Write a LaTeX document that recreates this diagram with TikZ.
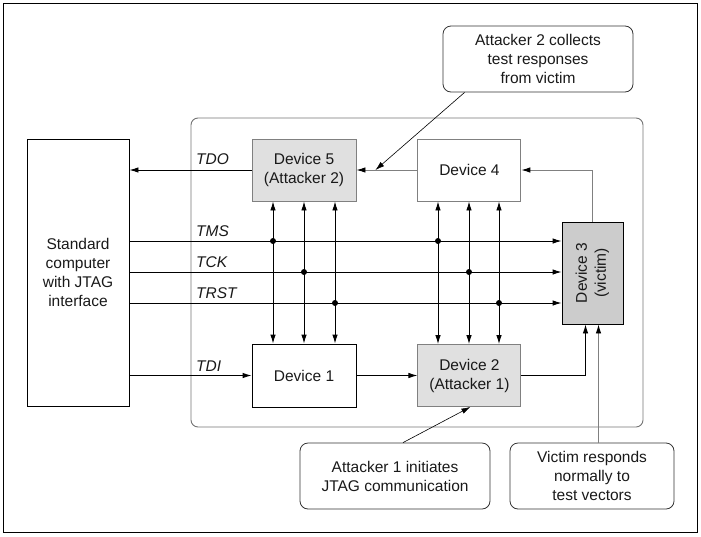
\documentclass[tikz,border=0pt]{standalone}
\usepackage{fontspec}
\setmainfont{Liberation Sans}
\usepackage{graphicx}
\usepackage{tikz}
\usetikzlibrary{arrows.meta,positioning,calc}

\tikzset{
  dev/.style={draw=black!50, line width=0.9pt, minimum width=103pt, minimum height=62pt, align=center, inner sep=0pt},
  atk/.style={dev, fill=black!12},
  note/.style={draw=black!80, rounded corners=8pt, line width=0.8pt, minimum height=66pt, align=center, inner sep=0pt},
  sig/.style={line width=0.9pt, -{Latex[length=9pt,width=5.5pt]}},
  gsig/.style={sig, draw=black!50, -{Latex[length=9pt,width=5.5pt,black]}},
  dbl/.style={line width=0.9pt, {Latex[length=9pt,width=5.5pt]}-{Latex[length=9pt,width=5.5pt]}},
  lbl/.style={font=\fontsize{15.5}{19}\selectfont\itshape, anchor=base west, inner sep=0pt},
}

\begin{document}
\begin{tikzpicture}[x=1pt, y=-1pt, font=\fontsize{15.5}{19}\selectfont, text=black!90]
    \useasboundingbox (0,0) rectangle (701,536);
    \draw[line width=1pt] (3,3) rectangle (697,532);
    \draw[black!55, line width=0.9pt, rounded corners=7pt] (191,118) rectangle (643,427);

    % Define nodes
    \node[dev, draw=black, minimum width=102pt, minimum height=267pt] (pc) at (78,272.5) {Standard\\computer\\with JTAG\\interface};
    \node[atk, minimum width=104pt] (dev5) at (304,170) {Device 5\\(Attacker 2)};
    \node[dev, right=61pt of dev5] (dev4) {Device 4};
    \node[dev, draw=black, minimum width=104pt, minimum height=63pt] (dev1) at (304,375.5) {Device 1};
    \node[atk, right=61pt of dev1] (dev2) {Device 2\\(Attacker 1)};
    \node[dev, draw=black, fill=black!20, minimum width=61pt, minimum height=102pt] (dev3) at (592.5,273)
        {\rotatebox{90}{\begin{tabular}{@{}c@{}}Device 3\\(victim)\end{tabular}}};

    \node[note, minimum width=190pt] (n2) at (538,59) {Attacker 2 collects\\test responses\\from victim};
    \node[note, minimum width=190pt] (n1) at (395,476) {Attacker 1 initiates\\JTAG communication};
    \node[note, minimum width=164pt] (n3) at (592,476) {Victim responds\\normally to\\test vectors};

    \coordinate (tms)  at (0,241);
    \coordinate (tck)  at (0,272);
    \coordinate (trst) at (0,303);

    % Signal labels
    \node[lbl] (ltdo)  at (196,164) {TDO};
    \node[lbl] (ltms)  at (196,236) {TMS};
    \node[lbl] (ltck)  at (196,267) {TCK};
    \node[lbl] (ltrst) at (196,298) {TRST};
    \node[lbl] (ltdi)  at (196,371) {TDI};

    % Connect nodes
    \draw[sig] (dev5.west) -- (pc.east |- dev5.west);
    \draw[sig] (pc.east |- tms) -- (dev3.west |- tms);
    \draw[sig] (pc.east |- tck) -- (dev3.west |- tck);
    \draw[sig] (pc.east |- trst) -- (dev3.west |- trst);
    \draw[sig] (pc.east |- dev1.west) -- (dev1.west);
    \draw[sig] (dev1) -- (dev2);
    \draw[sig] (dev2.east) -| ($(dev3.south)+(-7,0)$);
    \draw[gsig] (dev3.north) |- (dev4.east);
    \draw[gsig] (dev4) -- (dev5);

    \foreach \x/\s in {273/tms,304/tck,335/trst}{
        \coordinate (b) at (\x,0);
        \draw[dbl] (dev5.south -| b) -- (dev1.north -| b);
        \fill (b |- \s) circle (3pt);
    }
    \foreach \x/\s in {438/tms,469/tck,499/trst}{
        \coordinate (b) at (\x,0);
        \draw[dbl] (dev4.south -| b) -- (dev2.north -| b);
        \fill (b |- \s) circle (3pt);
    }

    % Callout pointers
    \draw[sig, line width=0.6pt] ($(n2.south west)+(22,0)$) -- ($(dev5.east)+(19,0)$);
    \draw[sig, line width=0.6pt] ($(n1.north)+(8,0)$) -- ($(dev2.south)+(1,0)$);
    \coordinate (v3) at ($(dev3.south)+(6,0)$);
    \draw[gsig] (n3.north -| v3) -- (v3);
\end{tikzpicture}
\end{document}
